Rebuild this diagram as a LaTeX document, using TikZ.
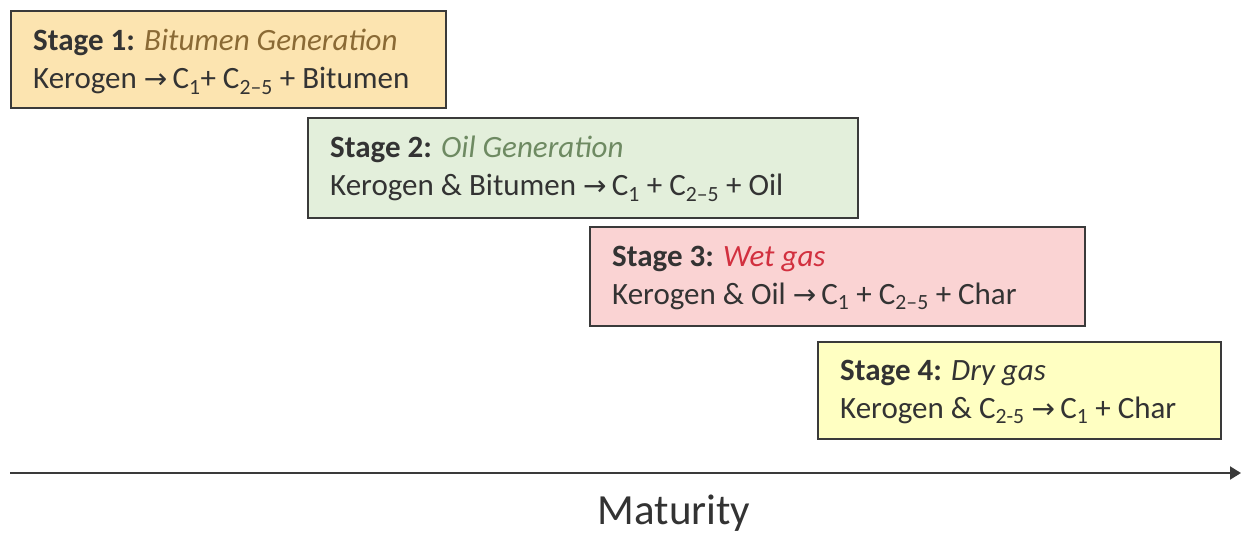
\documentclass[tikz,border=0pt]{standalone}
\usepackage{fontspec}
\setmainfont{Carlito}
\newfontfamily\arrfont{DejaVu Sans}
\usetikzlibrary{arrows.meta}
\definecolor{fillA}{HTML}{FCE4B0}
\definecolor{fillB}{HTML}{E3EFDB}
\definecolor{fillC}{HTML}{FAD3D3}
\definecolor{fillD}{HTML}{FFFFC2}
\definecolor{edge}{HTML}{3A3A3A}
\definecolor{txt}{HTML}{333333}
\definecolor{itA}{HTML}{8A6A35}
\definecolor{itB}{HTML}{6E8A62}
\definecolor{itC}{HTML}{D2303F}
\definecolor{itD}{HTML}{333333}
\tikzset{
  stagebox/.style={draw=edge, line width=2pt, rectangle, anchor=north west, inner sep=0pt},
  stagetext/.style={anchor=west, align=left, text=txt, inner sep=0pt,
    font=\fontsize{31}{38}\selectfont},
}
\newcommand{\sub}[1]{\textsubscript{#1}}
\newcommand{\arr}{{\arrfont\fontsize{28}{38}\selectfont →}}
\begin{document}
\begin{tikzpicture}[x=1pt,y=-1pt]
\useasboundingbox (0,0) rectangle (1243,533);
\node[stagebox, fill=fillA, minimum width=435pt, minimum height=97pt] (s1) at (10,10) {};
\node[stagetext] (t1) at (33,62)
  {\textbf{Stage 1:} \textcolor{itA}{\textit{Bitumen Generation}}\\Kerogen \arr\,C\sub{1}+ C\sub{2--5} + Bitumen};
\node[stagebox, fill=fillB, minimum width=550pt, minimum height=100pt] (s2) at (307,117) {};
\node[stagetext] (t2) at (330,169)
  {\textbf{Stage 2:} \textcolor{itB}{\textit{Oil Generation}}\\Kerogen \& Bitumen \arr\,C\sub{1} + C\sub{2--5} + Oil};
\node[stagebox, fill=fillC, minimum width=495pt, minimum height=99pt] (s3) at (589,226) {};
\node[stagetext] (t3) at (612,278)
  {\textbf{Stage 3:} \textcolor{itC}{\textit{Wet gas}}\\Kerogen \& Oil \arr\,C\sub{1} + C\sub{2--5} + Char};
\node[stagebox, fill=fillD, minimum width=403pt, minimum height=97pt] (s4) at (817,341) {};
\node[stagetext] (t4) at (840,392)
  {\textbf{Stage 4:} \textcolor{itD}{\textit{Dry gas}}\\Kerogen \& C\sub{2-5} \arr\,C\sub{1} + Char};
\coordinate (a0) at (10,473);
\coordinate (a1) at (1241,473);
\draw[line width=2pt, draw=edge, -{Triangle[length=11pt,width=13pt]}] (a0) -- (a1);
\node[text=txt, font=\fontsize{43}{48}\selectfont] (mat) at (674,513) {Maturity};
\end{tikzpicture}
\end{document}
